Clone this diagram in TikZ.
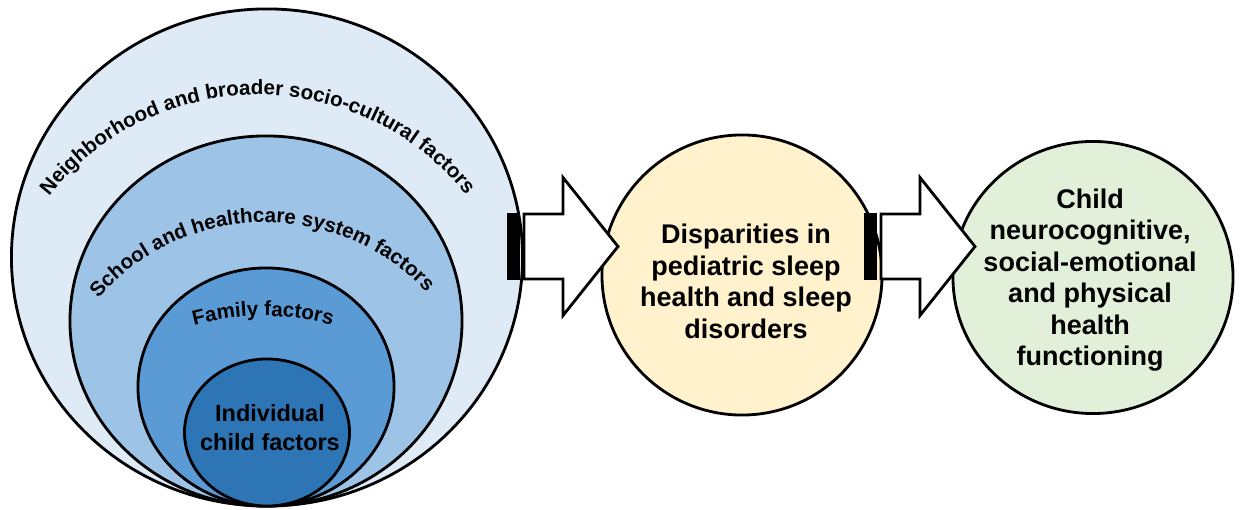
\documentclass[tikz,border=0pt]{standalone}
\usepackage{fontspec}
\setmainfont{Liberation Sans}
\usetikzlibrary{shapes.geometric, decorations.text}

\definecolor{nbhdblue}{HTML}{DEEBF7}
\definecolor{schoolblue}{HTML}{9DC3E6}
\definecolor{familyblue}{HTML}{5B9BD5}
\definecolor{childblue}{HTML}{2E75B6}
\definecolor{sleepyellow}{HTML}{FFF2CC}
\definecolor{outcomegreen}{HTML}{E2F0D9}

\newcommand{\arcfont}{\bfseries\fontsize{14.6}{17}\selectfont}
\newcommand{\stripedarrow}[1]{%
  \begin{scope}[shift={(#1)}]
    \filldraw[line width=1pt] (0,-32.5) rectangle (11,32.5);
    \draw[line width=2pt, fill=white, line join=miter] (16,-32.5) -- (16,32.5) -- (55,32.5) -- (55,69) -- (110,0) -- (55,-69) -- (55,-32.5) -- cycle;
  \end{scope}}

\tikzset{
  ring/.style={ellipse, draw, line width=2pt, inner sep=0pt},
  bubble/.style={ellipse, draw, line width=2pt, inner sep=0pt},
  bubbletext/.style={align=center, font=\bfseries\fontsize{19.2}{22.4}\selectfont},
  arctext/.style={decorate, decoration={text along path, text align=center, text={#1}}}
}

\begin{document}
\begin{tikzpicture}[x=0.025cm, y=0.025cm]
\useasboundingbox (0,0) rectangle (1241,510);
% nested levels, all touching at the bottom
\node[ring, fill=nbhdblue, minimum width=12.775cm, minimum height=12.425cm] (nbhd) at (267,252.5) {};
\node[ring, fill=schoolblue, minimum width=9.8cm, minimum height=9.25cm] (school) at (266,189) {};
\node[ring, fill=familyblue, minimum width=6.4cm, minimum height=5.95cm] (family) at (266,123) {};
\node[ring, fill=childblue, minimum width=4.125cm, minimum height=3.675cm] (child) at (267,77.5) {};
\node[align=center, font=\bfseries\fontsize{16.7}{20.6}\selectfont] (childtext) at ([shift={(3,5)}]child.center) {Individual\\child factors};
% curved labels
\path[arctext={|\arcfont|Neighborhood and broader socio-cultural factors}] ([shift={(150.1:266)}]258,149) arc[start angle=150.1, end angle=30.1, radius=266];
\path[arctext={|\arcfont|School and healthcare system factors}] ([shift={(146:221)}]265,66.6) arc[start angle=146, end angle=36, radius=221];
\path[arctext={|\arcfont|Family factors}] ([shift={(120:260)}]263,-66) arc[start angle=120, end angle=60, radius=260];
% outcomes
\node[bubble, fill=sleepyellow, minimum width=7cm, minimum height=7cm] (sleep) at (742,235) {};
\node[bubbletext] (sleeptext) at ([shift={(4,-6.5)}]sleep.center) {Disparities in\\pediatric sleep\\health and sleep\\disorders};
\node[bubble, fill=outcomegreen, minimum width=7cm, minimum height=6.8cm] (outcome) at (1093,232.5) {};
\node[bubbletext] (outcometext) at ([shift={(-3,-2.5)}]outcome.center) {Child\\neurocognitive,\\social-emotional\\and physical\\health\\functioning};
% block arrows
\coordinate (tailA) at (508,263.5);
\coordinate (tailB) at (865,263.5);
\stripedarrow{tailA}
\stripedarrow{tailB}
\end{tikzpicture}
\end{document}
